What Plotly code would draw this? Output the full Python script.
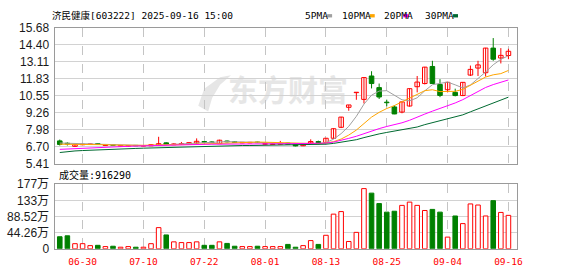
import plotly.graph_objects as go

# ---------------- data ----------------
dates = ["06-25", "06-26", "06-27", "06-30", "07-01", "07-02", "07-03", "07-04", "07-07", "07-08",
         "07-09", "07-10", "07-11", "07-14", "07-15", "07-16", "07-17", "07-18", "07-21", "07-22",
         "07-23", "07-24", "07-25", "07-28", "07-29", "07-30", "07-31", "08-01", "08-04", "08-05",
         "08-06", "08-07", "08-08", "08-11", "08-12", "08-13", "08-14", "08-15", "08-18", "08-19",
         "08-20", "08-21", "08-22", "08-25", "08-26", "08-27", "08-28", "08-29", "09-01", "09-02",
         "09-03", "09-04", "09-05", "09-08", "09-09", "09-10", "09-11", "09-12", "09-15", "09-16"]

opens = [7.13, 6.95, 6.72, 6.84, 6.86, 6.92, 6.78, 6.85, 6.74, 6.73,
         6.79, 6.74, 6.76, 6.82, 6.98, 6.84, 6.88, 6.88, 6.97, 7.08,
         7.05, 6.92, 7.12, 7.06, 6.98, 6.98, 7.04, 6.88, 6.86, 6.88,
         6.96, 6.86, 6.76, 6.97, 7.08, 7.01, 7.33, 8.16, 9.67, 10.78,
         10.27, 12.04, 11.16, 10.06, 9.70, 9.31, 9.77, 11.23, 11.47, 12.76,
         11.40, 11.00, 10.80, 10.56, 12.11, 12.64, 12.29, 14.15, 13.40, 13.59]
highs = [7.23, 7.02, 6.88, 6.92, 6.92, 6.95, 6.84, 6.88, 6.78, 6.80,
         6.81, 6.80, 6.88, 7.44, 7.02, 6.95, 7.05, 7.00, 7.32, 7.12,
         7.10, 7.22, 7.15, 7.08, 7.04, 7.05, 7.06, 6.95, 6.93, 7.13,
         6.98, 6.88, 6.86, 7.25, 7.15, 7.35, 8.08, 8.95, 9.85, 10.80,
         11.95, 12.40, 11.47, 10.25, 9.82, 10.10, 11.10, 12.04, 12.73, 13.19,
         11.80, 11.60, 11.08, 11.58, 12.83, 13.19, 14.17, 14.91, 14.15, 14.10]
lows = [6.78, 6.78, 6.68, 6.80, 6.82, 6.84, 6.75, 6.78, 6.70, 6.72,
        6.74, 6.73, 6.75, 6.80, 6.82, 6.82, 6.86, 6.85, 6.88, 6.95,
        6.98, 6.90, 7.02, 7.00, 6.96, 6.96, 6.98, 6.86, 6.85, 6.86,
        6.85, 6.72, 6.74, 6.92, 6.96, 6.98, 7.30, 8.10, 9.41, 10.24,
        9.96, 11.10, 10.30, 9.75, 9.15, 9.22, 9.72, 10.80, 11.40, 11.45,
        10.44, 10.80, 10.50, 10.52, 12.04, 12.04, 12.00, 13.19, 12.99, 13.31]
closes = [6.86, 6.90, 6.84, 6.88, 6.90, 6.86, 6.82, 6.80, 6.77, 6.77,
          6.76, 6.78, 6.84, 6.92, 6.85, 6.90, 6.92, 7.00, 7.10, 7.03,
          7.02, 7.18, 7.06, 7.02, 7.02, 7.02, 7.00, 6.92, 6.90, 6.95,
          6.88, 6.75, 6.84, 7.08, 7.00, 7.33, 8.05, 8.93, 9.85, 10.80,
          11.92, 11.47, 10.45, 10.02, 9.17, 10.08, 11.08, 11.58, 12.71, 11.47,
          10.57, 11.56, 10.56, 11.56, 12.54, 12.88, 14.15, 13.31, 13.60, 13.91]
# volume in 万 shares
volumes = [33.0, 35.6, 14.0, 14.0, 8.7, 9.5, 6.0, 7.0, 4.3, 6.0,
           4.3, 4.3, 14.0, 58.0, 38.0, 19.0, 17.0, 17.0, 19.0, 9.5,
           9.5, 19.0, 14.7, 7.0, 6.0, 6.0, 7.0, 6.0, 6.0, 6.0,
           12.0, 4.3, 8.7, 22.5, 12.0, 37.0, 95.0, 102.0, 20.0, 45.0,
           165.0, 152.6, 124.0, 100.5, 103.0, 119.0, 128.0, 119.0, 105.0, 108.0,
           100.5, 32.0, 90.0, 69.0, 123.0, 120.0, 90.0, 132.0, 99.7, 91.629]

ma5 = [6.97, 6.95, 6.92, 6.90, 6.88, 6.88, 6.86, 6.85, 6.83, 6.80,
       6.78, 6.78, 6.78, 6.81, 6.83, 6.86, 6.89, 6.92, 6.95, 6.99,
       7.01, 7.07, 7.08, 7.06, 7.06, 7.06, 7.02, 7.00, 6.97, 6.96,
       6.93, 6.88, 6.86, 6.90, 6.91, 7.00, 7.26, 7.68, 8.23, 8.99,
       9.91, 10.59, 10.90, 10.93, 10.61, 10.24, 10.16, 10.39, 10.92, 11.38,
       11.48, 11.58, 11.37, 11.14, 11.36, 11.82, 12.34, 12.89, 13.30, 13.57]
ma10 = [6.88, 6.88, 6.87, 6.87, 6.86, 6.85, 6.84, 6.82, 6.80, 6.80,
        6.80, 6.80, 6.80, 6.80, 6.81, 6.83, 6.85, 6.86, 6.88, 6.90,
        6.92, 6.96, 6.98, 7.01, 7.03, 7.04, 7.04, 7.03, 7.02, 7.01,
        6.99, 6.96, 6.94, 6.93, 6.92, 6.97, 7.07, 7.27, 7.57, 7.95,
        8.46, 8.93, 9.29, 9.58, 9.80, 10.07, 10.38, 10.64, 10.93, 11.00,
        10.86, 10.87, 10.88, 11.03, 11.37, 11.65, 11.96, 12.13, 12.22, 12.46]
ma20 = [6.49, 6.52, 6.56, 6.58, 6.60, 6.63, 6.66, 6.68, 6.70, 6.72,
        6.74, 6.76, 6.77, 6.79, 6.81, 6.83, 6.84, 6.85, 6.86, 6.87,
        6.88, 6.89, 6.90, 6.90, 6.91, 6.91, 6.91, 6.91, 6.91, 6.91,
        6.91, 6.91, 6.91, 6.92, 6.93, 6.96, 7.04, 7.16, 7.32, 7.48,
        7.69, 7.88, 8.06, 8.22, 8.34, 8.50, 8.69, 8.90, 9.16, 9.38,
        9.58, 9.80, 10.00, 10.25, 10.56, 10.86, 11.17, 11.39, 11.57, 11.74]
ma30 = [6.25, 6.33, 6.37, 6.40, 6.43, 6.45, 6.48, 6.49, 6.52, 6.55,
        6.56, 6.58, 6.60, 6.61, 6.62, 6.64, 6.66, 6.69, 6.71, 6.72,
        6.74, 6.75, 6.76, 6.77, 6.78, 6.78, 6.79, 6.79, 6.80, 6.80,
        6.80, 6.80, 6.80, 6.81, 6.82, 6.88, 6.94, 7.02, 7.10, 7.22,
        7.38, 7.54, 7.66, 7.77, 7.86, 7.95, 8.06, 8.18, 8.36, 8.52,
        8.68, 8.84, 8.95, 9.10, 9.33, 9.55, 9.77, 9.99, 10.21, 10.44]

tick_dates = ["06-30", "07-10", "07-22", "08-01", "08-13", "08-25", "09-04", "09-16"]
price_ticks = [5.41, 6.70, 7.98, 9.26, 10.55, 11.83, 13.11, 14.40, 15.68]
price_labels = ["5.41", "6.70", "7.98", "9.26", "10.55", "11.83", "13.11", "14.40", "15.68"]
vol_ticks = [0, 44.26, 88.52, 132.78, 177.04]
vol_labels = ["0", "44.26万", "88.52万", "133万", "177万"]

title_text = "济民健康[603222] 2025-09-16 15:00"
vol_title = "成交量:916290"
ma_names = ["5PMA", "10PMA", "20PMA", "30PMA"]
watermark = "东方财富"

# ---------------- styling ----------------
W, H = 578, 276
RED = "#ff0000"
GREEN = "#008000"
MA_COLORS = ["#a0a0a0", "#ffa500", "#ff00ff", "#006a31"]
GRID = "#d2d2d2"
FRAME = "#9a9a9a"
MONO = "DejaVu Sans Mono, Noto Sans CJK SC"
SANS = "Liberation Sans, Arial, Noto Sans CJK SC"


def px(x):
    return x / W


def py(y):
    return 1 - y / H


up = [c >= o for o, c in zip(opens, closes)]

fig = go.Figure()

# wicks
for flag, color in ((True, RED), (False, GREEN)):
    xs, ys = [], []
    for d, h, l, u in zip(dates, highs, lows, up):
        if u == flag:
            xs += [d, d, None]
            ys += [l, h, None]
    fig.add_trace(go.Scatter(x=xs, y=ys, mode="lines", line=dict(color=color, width=1),
                             hoverinfo="skip", showlegend=False, xaxis="x", yaxis="y"))

# bodies
for flag, fill, color in ((True, "white", RED), (False, GREEN, GREEN)):
    xs = [d for d, u in zip(dates, up) if u == flag]
    base = [min(o, c) for o, c, u in zip(opens, closes, up) if u == flag]
    hgt = [max(abs(c - o), 0.03) for o, c, u in zip(opens, closes, up) if u == flag]
    fig.add_trace(go.Bar(x=xs, y=hgt, base=base, width=0.6,
                         marker=dict(color=fill, line=dict(color=color, width=1)),
                         hoverinfo="skip", showlegend=False, xaxis="x", yaxis="y"))

# moving averages
for vals, color in zip([ma5, ma10, ma20, ma30], MA_COLORS):
    fig.add_trace(go.Scatter(x=dates, y=vals, mode="lines", line=dict(color=color, width=1),
                             hoverinfo="skip", showlegend=False, xaxis="x", yaxis="y"))

# volume
for flag, fill, color in ((True, "white", RED), (False, GREEN, GREEN)):
    xs = [d for d, u in zip(dates, up) if u == flag]
    vs = [v for v, u in zip(volumes, up) if u == flag]
    fig.add_trace(go.Bar(x=xs, y=vs, width=0.6,
                         marker=dict(color=fill, line=dict(color=color, width=1)),
                         hoverinfo="skip", showlegend=False, xaxis="x2", yaxis="y2"))

xdom = [px(55), px(522)]
xrange = [-0.69, 59.0 + 1.19]

common_x = dict(domain=xdom, type="category", categoryorder="array", categoryarray=dates,
                range=xrange, tickvals=tick_dates, showgrid=True, gridcolor="#c4c4c4",
                griddash="dash", gridwidth=1, showline=True, mirror=True, linecolor=FRAME,
                linewidth=1, ticks="", zeroline=False, fixedrange=True)

fig.update_layout(
    width=W, height=H, margin=dict(l=0, r=0, t=0, b=0),
    paper_bgcolor="white", plot_bgcolor="white",
    barmode="overlay", showlegend=False,
    xaxis=dict(common_x, anchor="y", showticklabels=False),
    xaxis2=dict(common_x, anchor="y2", matches="x", showticklabels=True,
                tickfont=dict(family=MONO, size=9.5, color=RED), ticklabelstandoff=4),
    yaxis=dict(domain=[py(165), py(22)], range=[price_ticks[0], price_ticks[-1]],
               tickvals=price_ticks, ticktext=price_labels, anchor="x",
               showgrid=True, gridcolor=GRID, showline=True, mirror=True, linecolor=FRAME,
               ticks="", zeroline=False, tickfont=dict(family=SANS, size=12, color="#1a1a1a"),
               ticklabelstandoff=2),
    yaxis2=dict(domain=[py(254.7), py(186.7)], range=[vol_ticks[0], vol_ticks[-1]],
                tickvals=vol_ticks, ticktext=vol_labels, anchor="x2",
                showgrid=True, gridcolor=GRID, showline=True, mirror=True, linecolor=FRAME,
                ticks="", zeroline=False, tickfont=dict(family=SANS, size=12, color="#1a1a1a"),
                ticklabelstandoff=2),
)

annotations = [
    dict(text=title_text, x=px(50), y=py(9), xanchor="left", yanchor="middle",
         font=dict(family=MONO, size=9.5, color="#000")),
    dict(text=vol_title, x=px(57), y=py(177), xanchor="left", yanchor="middle",
         font=dict(family=MONO, size=10, color="#000")),
]
legend_x = [306, 343, 385, 427]
square_x = [330, 373, 407, 457]
shapes = []
for name, lx, sx, col in zip(ma_names, legend_x, square_x, MA_COLORS):
    annotations.append(dict(text=name, x=px(lx), y=py(9), xanchor="left", yanchor="middle",
                            font=dict(family=MONO, size=9.5, color="#000")))
    shapes.append(dict(type="rect", xref="paper", yref="paper", x0=px(sx), x1=px(sx + 5),
                       y0=py(11), y1=py(7.5), fillcolor=col, line=dict(width=0)))
for a in annotations:
    a.update(xref="paper", yref="paper", showarrow=False)

# watermark (logo swoosh + text), drawn below the data
shapes.append(dict(type="rect", xref="paper", yref="paper", x0=px(236), x1=px(345),
                   y0=py(110), y1=py(72), line=dict(width=0), fillcolor="rgba(0,0,0,0)",
                   layer="below",
                   label=dict(text=watermark, textposition="middle center",
                              font=dict(family="Noto Sans CJK SC", size=30, color="#e6e6e6",
                                        weight="bold"))))
pts = [(200, 104), (206, 86), (222, 74), (233, 72), (222, 82), (214, 96), (210, 110)]
path = "M " + " L ".join(f"{px(a):.4f},{py(b):.4f}" for a, b in pts) + " Z"
shapes.append(dict(type="path", xref="paper", yref="paper", path=path,
                   fillcolor="#e6e6e6", line=dict(width=0), layer="below"))

fig.update_layout(annotations=annotations, shapes=shapes)

fig.write_html("out.html")
